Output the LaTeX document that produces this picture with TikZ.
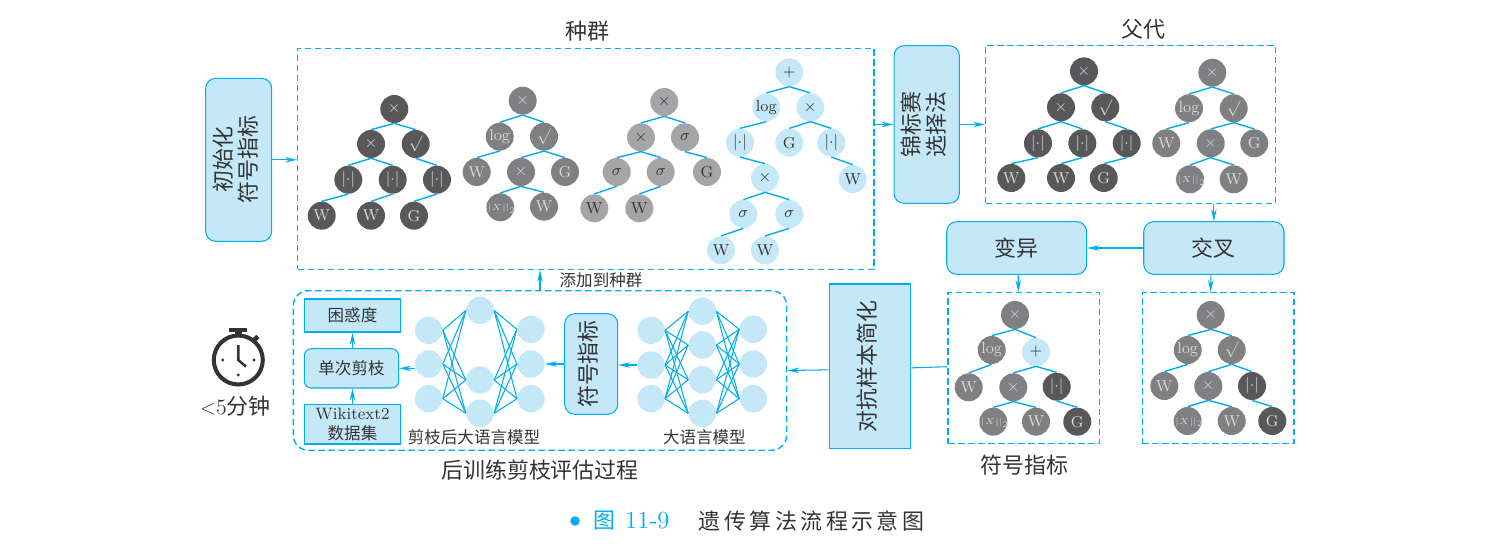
\documentclass[tikz,border=0pt]{standalone}
\usepackage{fontspec}
\usepackage{xcolor}
\usepackage{tikz}
\usetikzlibrary{arrows.meta, positioning}
\newfontfamily\cjk{Noto Sans CJK SC}
\newfontfamily\cjkcap[LetterSpace=16]{Noto Sans CJK SC}
\definecolor{lineblue}{HTML}{00AEEF}
\definecolor{fillblue}{HTML}{C5E8F9}
\definecolor{treedark}{HTML}{58585A}
\definecolor{treemid}{HTML}{808083}
\definecolor{treelight}{HTML}{A5A5A7}
\definecolor{inktext}{HTML}{333333}
\newcommand{\fsbig}{\fontsize{12.5}{15}\selectfont\cjk}
\newcommand{\fssmall}{\fontsize{9.4}{11.2}\selectfont\cjk}
\newcommand{\vlabel}[1]{\rotatebox{90}{\begin{tabular}{@{}c@{}}#1\end{tabular}}}
\newcommand{\normtext}{\makebox[0pt]{\raisebox{-1.8pt}[0pt][0pt]{$|\mkern-1mu|X|\mkern-1mu|_2$}}}
\newcommand{\absval}{$|{\cdot}|$}

\begin{document}
\begin{tikzpicture}[
    x=0.02cm, y=-0.02cm,
    roundbox/.style={rectangle, draw=lineblue, fill=fillblue, rounded corners=0.2cm, line width=0.6pt, inner sep=0pt, text=inktext, font=\fsbig},
    squarebox/.style={rectangle, draw=lineblue, fill=fillblue, line width=0.8pt, inner sep=0pt, text=inktext, font=\fsbig},
    dashbox/.style={rectangle, draw=lineblue, dash pattern=on 0.13cm off 0.07cm, line width=0.8pt, inner sep=0pt},
    arrow/.style={-{Stealth[length=0.24cm, width=0.11cm]}, lineblue, line width=0.6pt},
    link/.style={lineblue, line width=0.8pt},
    wire/.style={lineblue, line width=0.6pt},
    neuron/.style={circle, fill=fillblue, minimum size=0.55cm, inner sep=0pt},
    titlelabel/.style={text=inktext, font=\fsbig},
    smalllabel/.style={text=inktext, font=\fssmall},
    tnode/.style={circle, minimum size=0.56cm, inner sep=0pt, font=\fontsize{9}{10}\selectfont},
    tdark/.style={tnode, fill=treedark, text=white!85!black},
    tmid/.style={tnode, fill=treemid, text=white!85!black},
    tlight/.style={tnode, fill=treelight, text=inktext},
    tblue/.style={tnode, fill=fillblue, text=inktext},
    normsize/.style={font=\fontsize{5.2}{7}\selectfont}
]
    \useasboundingbox (0,0) rectangle (1497,557);

    % Main boxes
    \node[roundbox, minimum width=1.32cm, minimum height=3.26cm] (init) at (238.7,159.8) {\vlabel{初始化\\[-0.7pt]符号指标}};
    \node[dashbox, minimum width=11.526cm, minimum height=4.42cm] (pop) at (585.85,158.8) {};
    \node[roundbox, minimum width=1.306cm, minimum height=3.152cm] (tourn) at (926.7,124.5) {\vlabel{锦标赛\\[-0.7pt]选择法}};
    \node[dashbox, minimum width=5.8cm, minimum height=3.16cm] (parent) at (1130.7,124.3) {};
    \node[roundbox, minimum width=2.806cm, minimum height=1.052cm] (cross) at (1213.85,248) {交叉};
    \node[roundbox, minimum width=2.8cm, minimum height=1.052cm] (mutate) at (1016.7,248) {变异};
    \node[dashbox, minimum width=3.034cm, minimum height=3.02cm] (mbox) at (1023.85,368.2) {};
    \node[dashbox, minimum width=3.034cm, minimum height=3.02cm] (cbox) at (1218.15,368.2) {};
    \node[squarebox, minimum width=1.628cm, minimum height=3.294cm] (adv) at (870,366.35) {\vlabel{对抗样本简化}};
    \node[dashbox, rounded corners=0.3cm, minimum width=9.868cm, minimum height=3.192cm] (eval) at (540,370.5) {};

    % Titles
    \node[titlelabel, above=0cm of pop, xshift=0.04cm] (poptitle) {种群};
    \node[titlelabel, above=-0.02cm of parent, xshift=0.26cm] (partitle) {父代};
    \node[titlelabel, below=0.08cm of mbox, xshift=0.02cm] (symtitle) {符号指标};
    \node[titlelabel, below=0.06cm of eval] (evaltitle) {后训练剪枝评估过程};
    \node[smalllabel] (addlabel) at (601,280) {添加到种群};

    % Tree one
    \node[tdark] (ta1) at (394.3,109) {$\times$};
    \node[tdark] (ta2) at (371,144) {$\times$};
    \node[tdark] (ta3) at (415.7,144) {$\surd$};
    \node[tdark] (ta4) at (348.3,179.7) {\absval};
    \node[tdark] (ta5) at (392.7,179.7) {\absval};
    \node[tdark] (ta6) at (437,179.7) {\absval};
    \node[tdark] (ta7) at (321.7,215.7) {W};
    \node[tdark] (ta8) at (371,215.7) {W};
    \node[tdark] (ta9) at (414,215.7) {G};
    \foreach \a/\b in {ta1/ta2, ta1/ta3, ta2/ta4, ta2/ta5, ta3/ta6, ta4/ta7, ta5/ta8, ta6/ta9}
        \draw[link] (\a.south) -- (\b.north);

    % Tree two
    \node[tmid] (tb1) at (522.7,100.7) {$\times$};
    \node[tmid] (tb2) at (499.7,136.7) {log};
    \node[tmid] (tb3) at (544,136.7) {$\surd$};
    \node[tmid] (tb4) at (476.7,172) {W};
    \node[tmid] (tb5) at (521,172) {$\times$};
    \node[tmid] (tb6) at (565,172) {G};
    \node[tmid, normsize] (tb7) at (500.3,207.3) {\normtext};
    \node[tmid] (tb8) at (544,206.7) {W};
    \foreach \a/\b in {tb1/tb2, tb1/tb3, tb2/tb4, tb3/tb5, tb3/tb6, tb5/tb7, tb5/tb8}
        \draw[link] (\a.south) -- (\b.north);

    % Tree three
    \node[tlight] (tc1) at (664.3,102) {$\times$};
    \node[tlight] (tc2) at (641,137.3) {$\times$};
    \node[tlight] (tc3) at (685,137.3) {$\sigma$};
    \node[tlight] (tc4) at (616.7,172) {$\sigma$};
    \node[tlight] (tc5) at (660.7,172) {$\sigma$};
    \node[tlight] (tc6) at (707,172) {G};
    \node[tlight] (tc7) at (594.3,208.3) {W};
    \node[tlight] (tc8) at (639.3,208.3) {W};
    \foreach \a/\b in {tc1/tc2, tc1/tc3, tc2/tc4, tc2/tc5, tc3/tc6, tc4/tc7, tc5/tc8}
        \draw[link] (\a.south) -- (\b.north);

    % Tree four
    \node[tblue] (td1) at (789.3,72.3) {$+$};
    \node[tblue] (td2) at (766.3,107.3) {log};
    \node[tblue] (td3) at (810.3,107.3) {$\times$};
    \node[tblue] (td4) at (740,142.7) {\absval};
    \node[tblue] (td5) at (789.3,142.7) {G};
    \node[tblue] (td6) at (831.3,142.7) {\absval};
    \node[tblue] (td7) at (765,178) {$\times$};
    \node[tblue] (td8) at (852.7,179) {W};
    \node[tblue] (td9) at (743.3,214) {$\sigma$};
    \node[tblue] (td10) at (789.3,214) {$\sigma$};
    \node[tblue] (td11) at (721,250.3) {W};
    \node[tblue] (td12) at (765,250.3) {W};
    \foreach \a/\b in {td1/td2, td1/td3, td2/td4, td3/td5, td3/td6, td4/td7, td6/td8, td7/td9, td7/td10, td9/td11, td10/td12}
        \draw[link] (\a.south) -- (\b.north);

    % Parent trees
    \node[tdark] (pa1) at (1084,71.3) {$\times$};
    \node[tdark] (pa2) at (1061,107.3) {$\times$};
    \node[tdark] (pa3) at (1105.3,107.3) {$\surd$};
    \node[tdark] (pa4) at (1038,143.3) {\absval};
    \node[tdark] (pa5) at (1082.3,143.3) {\absval};
    \node[tdark] (pa6) at (1126.7,143.3) {\absval};
    \node[tdark] (pa7) at (1011.3,178) {W};
    \node[tdark] (pa8) at (1061,178) {W};
    \node[tdark] (pa9) at (1103.7,178) {G};
    \foreach \a/\b in {pa1/pa2, pa1/pa3, pa2/pa4, pa2/pa5, pa3/pa6, pa4/pa7, pa5/pa8, pa6/pa9}
        \draw[link] (\a.south) -- (\b.north);

    \node[tmid] (pb1) at (1212.3,72.7) {$\times$};
    \node[tmid] (pb2) at (1189,108.3) {log};
    \node[tmid] (pb3) at (1233.7,108.3) {$\surd$};
    \node[tmid] (pb4) at (1166.3,143.3) {W};
    \node[tmid] (pb5) at (1210.7,143.3) {$\times$};
    \node[tmid] (pb6) at (1254.3,143.3) {G};
    \node[tmid, normsize] (pb7) at (1190,179.3) {\normtext};
    \node[tmid] (pb8) at (1233.7,179.3) {W};
    \foreach \a/\b in {pb1/pb2, pb1/pb3, pb2/pb4, pb3/pb5, pb3/pb6, pb5/pb7, pb5/pb8}
        \draw[link] (\a.south) -- (\b.north);

    % Mutated tree
    \node[tmid] (ma1) at (1015,315) {$\times$};
    \node[tmid] (ma2) at (991.7,350) {log};
    \node[tblue] (ma3) at (1036,352) {$+$};
    \node[tmid] (ma4) at (968.7,387.3) {W};
    \node[tmid] (ma5) at (1013.3,387.3) {$\times$};
    \node[tdark] (ma6) at (1056.7,386.7) {\absval};
    \node[tmid, normsize] (ma7) at (993.3,421.7) {\normtext};
    \node[tmid] (ma8) at (1036,421.7) {W};
    \node[tdark] (ma9) at (1077.3,421.7) {G};
    \foreach \a/\b in {ma1/ma2, ma1/ma3, ma2/ma4, ma3/ma5, ma3/ma6, ma5/ma7, ma5/ma8, ma6/ma9}
        \draw[link] (\a.south) -- (\b.north);

    % Crossover tree
    \node[tmid] (ca1) at (1210.7,315) {$\times$};
    \node[tmid] (ca2) at (1187.7,350) {log};
    \node[tmid] (ca3) at (1231.7,350) {$\surd$};
    \node[tmid] (ca4) at (1164.3,386) {W};
    \node[tmid] (ca5) at (1208.3,386) {$\times$};
    \node[tdark] (ca6) at (1252,386) {\absval};
    \node[tmid, normsize] (ca7) at (1187.7,421) {\normtext};
    \node[tmid] (ca8) at (1231.7,421) {W};
    \node[tdark] (ca9) at (1272.3,421) {G};
    \foreach \a/\b in {ca1/ca2, ca1/ca3, ca2/ca4, ca3/ca5, ca3/ca6, ca5/ca7, ca5/ca8, ca6/ca9}
        \draw[link] (\a.south) -- (\b.north);

    % Pruning side
    \node[squarebox, minimum width=1.928cm, minimum height=0.66cm, font=\fssmall] (conf) at (352.5,315.5) {困惑度};
    \node[roundbox, rounded corners=0.14cm, minimum width=1.888cm, minimum height=0.786cm, font=\fssmall] (prune) at (351.5,368.35) {单次剪枝};
    \node[squarebox, minimum width=1.928cm, minimum height=0.794cm, align=center, font=\fontsize{9.4}{11.2}\selectfont] (wiki) at (352.5,424.15) {Wikitext2\\{\cjk 数据集}};
    \node[roundbox, rounded corners=0.2cm, minimum width=1.06cm, minimum height=2.012cm] (sym) at (591.2,364) {\vlabel{符号指标}};

    % Pruned network
    \foreach \i/\y in {1/330.3, 2/364, 3/398.7}
        \node[neuron] (na\i) at (428.7,\y) {};
    \foreach \i/\y in {1/310.3, 2/380, 3/413.3}
        \node[neuron] (nb\i) at (480,\y) {};
    \foreach \i/\y in {1/329.3, 2/364, 3/398.7}
        \node[neuron] (nc\i) at (531,\y) {};
    \foreach \a in {1,2,3}
        \foreach \b in {1,2,3} {
            \draw[wire] (na\a.east) -- (nb\b.west);
            \draw[wire] (nb\b.east) -- (nc\a.west);
        }
    \node[smalllabel] (prunedlabel) at (474,437) {剪枝后大语言模型};

    % Full network
    \foreach \i/\y in {1/330.3, 2/365, 3/398.7}
        \node[neuron] (fa\i) at (651,\y) {};
    \foreach \i/\y in {1/311.3, 2/345, 3/379.7, 4/413.3}
        \node[neuron] (fb\i) at (702.3,\y) {};
    \foreach \i/\y in {1/329.3, 2/364, 3/398.7}
        \node[neuron] (fc\i) at (753.3,\y) {};
    \foreach \a in {1,2,3}
        \foreach \b in {1,2,3,4} {
            \draw[wire] (fa\a.east) -- (fb\b.west);
            \draw[wire] (fb\b.east) -- (fc\a.west);
        }
    \node[smalllabel] (fulllabel) at (704.3,437) {大语言模型};

    % Flow arrows
    \draw[arrow] (init.east) -- (init.east -| pop.west);
    \draw[arrow] (pop.east |- tourn.west) -- (tourn.west);
    \draw[arrow] (tourn.east) -- (tourn.east -| parent.west);
    \draw[arrow] (parent.south -| cross.north) -- (cross.north);
    \draw[arrow] (cross.west) -- (mutate.east);
    \draw[arrow] ([xshift=0.03cm]mutate.south) -- ([xshift=-0.11cm]mbox.north);
    \draw[arrow] ([xshift=-0.06cm]cross.south) -- ([xshift=-0.15cm]cbox.north);
    \draw[lineblue, line width=0.6pt] ([yshift=-0.03cm]adv.east) -- ([yshift=0.03cm]mbox.west);
    \draw[arrow] ([yshift=-0.07cm]adv.west) -- (eval.east);
    \draw[arrow] (fa2.west) -- (fa2.west -| sym.east);
    \draw[arrow] (sym.west |- nc2.east) -- (nc2.east);
    \draw[arrow] (na2.west |- prune.east) -- (prune.east);
    \draw[arrow] (wiki.north) -- (wiki.north |- prune.south);
    \draw[arrow] (conf.south |- prune.north) -- (conf.south);
    \draw[arrow] (eval.north) -- (eval.north |- pop.south);

    % Stopwatch
    \draw[inktext, line width=2.3pt] (238.3,360) circle (24.5);
    \fill[inktext] (229.3,327.7) rectangle (247.3,331.7);
    \fill[inktext] (235,331.7) rectangle (241.7,335);
    \draw[inktext, line width=2.6pt] (253,341) -- (258,336.5);
    \draw[inktext, line width=1.4pt] (238.3,345) -- (238.3,360) -- (246,366.7);
    \fill[inktext] (222.7,360) circle (1.6) (254,360) circle (1.6) (238.3,375) circle (1.6);
    \node[text=inktext, font=\fontsize{12.5}{15}\selectfont] (limit) at (235.5,406.7) {$<$5{\cjk 分钟}};

    % Caption
    \node[circle, fill=lineblue, minimum size=0.19cm, inner sep=0pt] (capdot) at (575,521) {};
    \node[text=lineblue, font=\fontsize{14}{16}\selectfont] (capnum) at (631.5,521) {{\fontsize{12.5}{15}\selectfont\cjk 图}\hspace{5.5pt}11-9};
    \node[text=inktext, font=\fontsize{12.5}{15}\selectfont\cjkcap] (captext) at (811.5,521) {遗传算法流程示意图};
\end{tikzpicture}
\end{document}
